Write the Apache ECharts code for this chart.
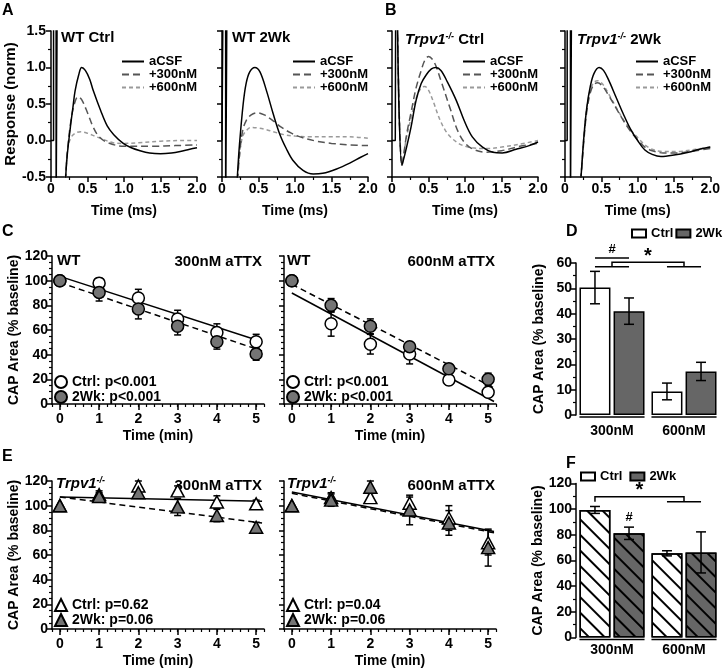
<!DOCTYPE html>
<html><head><meta charset="utf-8">
<script src="https://cdn.jsdelivr.net/npm/echarts@6/dist/echarts.min.js"></script>
<style>html,body{margin:0;padding:0;background:#fff}#c{width:723px;height:671px}</style>
</head><body><div id="c"></div>
<script>
// ================= DATA =================
// Panels A/B: CAP traces, [time (ms), normalized response]
const artifactA1 = [[0,0],[0.035,0],[0.035,2],[0.07,2],[0.07,-1],[0.085,-1],[0.085,2]];
const wtCtrl_aCSF = [[0.19,-0.7],[0.22,-0.23],[0.265,0.18],[0.3,0.45],[0.33,0.68],[0.38,0.9],[0.42,1.0],[0.47,0.96],[0.53,0.84],[0.58,0.68],[0.68,0.41],[0.77,0.2],[0.86,0.08],[0.99,-0.04],[1.1,-0.1],[1.22,-0.14],[1.35,-0.17],[1.5,-0.18],[1.65,-0.17],[1.77,-0.15],[1.9,-0.12],[2.0,-0.1]];
const wtCtrl_300 = [[0.19,-0.7],[0.22,-0.2],[0.27,0.25],[0.32,0.5],[0.37,0.6],[0.42,0.56],[0.5,0.38],[0.58,0.18],[0.66,0.05],[0.78,-0.03],[1.0,-0.08],[1.4,-0.08],[1.7,-0.07],[2.0,-0.06]];
const wtCtrl_600 = [[0.19,-0.7],[0.23,-0.1],[0.28,0.05],[0.35,0.11],[0.41,0.12],[0.5,0.1],[0.6,0.06],[0.7,0.02],[0.85,-0.03],[1.0,-0.04],[1.2,-0.03],[1.5,-0.01],[1.8,0.0],[2.0,0.0]];

const artifactA2 = [[0,0],[0.014,0],[0.014,2],[0.05,2],[0.05,-1],[0.068,-1],[0.068,2]];
const wt2Wk_aCSF = [[0.2,-0.7],[0.21,-0.5],[0.24,-0.05],[0.29,0.5],[0.33,0.78],[0.38,0.94],[0.45,1.0],[0.52,0.94],[0.61,0.68],[0.7,0.37],[0.79,0.09],[0.88,-0.11],[0.97,-0.27],[1.11,-0.41],[1.25,-0.46],[1.38,-0.45],[1.57,-0.39],[1.75,-0.31],[1.9,-0.23],[2.0,-0.18]];
const wt2Wk_300 = [[0.2,-0.7],[0.24,-0.2],[0.28,0.12],[0.33,0.27],[0.4,0.35],[0.49,0.38],[0.58,0.35],[0.7,0.27],[0.8,0.19],[0.95,0.1],[1.1,0.04],[1.3,-0.01],[1.5,-0.04],[1.75,-0.06],[2.0,-0.07]];
const wt2Wk_600 = [[0.2,-0.7],[0.24,-0.2],[0.28,0.05],[0.33,0.13],[0.4,0.18],[0.5,0.17],[0.6,0.15],[0.7,0.12],[0.85,0.08],[1.0,0.06],[1.2,0.05],[1.5,0.05],[1.75,0.05],[2.0,0.03]];

const artifactB1 = [[0,0],[0.045,0],[0.05,1.8],[0.075,1.8]];
const koCtrl_aCSF = [[0.075,1.6],[0.137,-0.34],[0.2,-0.09],[0.26,0.18],[0.33,0.55],[0.4,0.78],[0.47,0.9],[0.54,0.98],[0.6,1.0],[0.67,0.96],[0.76,0.8],[0.88,0.55],[0.99,0.27],[1.1,0.05],[1.24,-0.09],[1.38,-0.16],[1.51,-0.17],[1.7,-0.12],[1.88,-0.07],[2.0,-0.02]];
const koCtrl_300 = [[0.075,1.6],[0.137,-0.34],[0.2,0.08],[0.26,0.38],[0.33,0.72],[0.4,0.96],[0.45,1.1],[0.5,1.15],[0.58,1.07],[0.67,0.82],[0.79,0.46],[0.92,0.09],[1.06,-0.09],[1.29,-0.16],[1.5,-0.14],[1.75,-0.08],[2.0,-0.04]];
const koCtrl_600 = [[0.075,1.6],[0.137,-0.34],[0.2,0.05],[0.26,0.3],[0.33,0.58],[0.4,0.72],[0.45,0.74],[0.5,0.69],[0.57,0.52],[0.65,0.3],[0.73,0.14],[0.82,0.03],[0.95,-0.06],[1.1,-0.1],[1.3,-0.11],[1.5,-0.09],[1.75,-0.05],[2.0,0.0]];

const artifactB2 = [[0,0],[0.03,0],[0.03,2],[0.075,2],[0.075,-1],[0.09,-1],[0.09,2]];
const ko2Wk_aCSF = [[0.2,-0.7],[0.22,-0.5],[0.26,0.05],[0.3,0.45],[0.35,0.75],[0.4,0.92],[0.47,1.0],[0.53,0.96],[0.6,0.83],[0.7,0.6],[0.8,0.37],[0.9,0.16],[1.0,0.0],[1.1,-0.13],[1.2,-0.19],[1.32,-0.22],[1.5,-0.2],[1.7,-0.16],[1.85,-0.12],[2.0,-0.09]];
const ko2Wk_300 = [[0.2,-0.7],[0.22,-0.5],[0.26,0.0],[0.3,0.4],[0.35,0.66],[0.4,0.77],[0.45,0.79],[0.52,0.74],[0.6,0.62],[0.7,0.45],[0.8,0.28],[0.9,0.13],[1.0,0.01],[1.1,-0.09],[1.2,-0.14],[1.35,-0.17],[1.55,-0.17],[1.8,-0.14],[2.0,-0.11]];
const ko2Wk_600 = [[0.2,-0.7],[0.22,-0.5],[0.26,0.05],[0.3,0.45],[0.35,0.7],[0.4,0.8],[0.45,0.82],[0.52,0.77],[0.6,0.64],[0.7,0.46],[0.8,0.29],[0.9,0.15],[1.0,0.04],[1.1,-0.06],[1.2,-0.12],[1.35,-0.15],[1.55,-0.15],[1.8,-0.12],[2.0,-0.09]];

// Panels C/E: CAP area (% baseline) vs time (min)
const minutes = [0, 1, 2, 3, 4, 5];
const wt300_ctrl = [100, 98, 86, 69, 58, 50.5];
const wt300_ctrlErr = [0, 4, 7, 7, 7, 6];
const wt300_2wk = [100, 90.5, 77, 63, 50.5, 40.5];
const wt300_2wkErr = [0, 7, 8, 7, 6, 5];
const wt600_ctrl = [100, 65, 48.5, 40.5, 19.5, 9.5];
const wt600_ctrlErr = [0, 10, 8, 8, 4, 4];
const wt600_2wk = [100, 80, 63, 46.5, 28.5, 20];
const wt600_2wkErr = [0, 5.5, 6, 4, 4, 5];
const ko300_ctrl = [100, 109, 116, 112, 103, 101.5];
const ko300_ctrlErr = [0, 3, 4, 4, 5, 3];
const ko300_2wk = [100, 107.5, 110.5, 99, 92, 82.5];
const ko300_2wkErr = [0, 3, 3, 7, 5, 4];
const ko600_ctrl = [100, 106.5, 106.5, 102, 90, 70];
const ko600_ctrlErr = [0, 4, 4, 5, 10, 10];
const ko600_2wk = [100, 104.5, 115, 96.5, 86, 66];
const ko600_2wkErr = [0, 5, 5, 12, 10, 15];
// regression lines: value at fitTimes[0] and fitTimes[1]
const fitTimes = [0, 5.15];
const wt300_ctrlFit = [103.5, 50.5];
const wt300_2wkFit = [98.5, 43];
const wt600_ctrlFit = [90, 2];
const wt600_2wkFit = [97, 13];
const ko300_ctrlFit = [107, 103.5];
const ko300_2wkFit = [107, 86];
const ko600_ctrlFit = [111, 79];
const ko600_2wkFit = [110, 78];

// Panels D/F: CAP area at end (% baseline)
const doses = ['300nM', '600nM'];
const wtEnd_ctrl = [50.3, 9.3];
const wtEnd_ctrlErr = [6.4, 3.3];
const wtEnd_2wk = [41, 17.2];
const wtEnd_2wkErr = [5.2, 3.6];
const koEnd_ctrl = [99.4, 65.6];
const koEnd_ctrlErr = [2.7, 2];
const koEnd_2wk = [81.2, 66.3];
const koEnd_2wkErr = [4.8, 16];

// ================= CHART =================
const FF = '"Liberation Sans", Arial, Helvetica, sans-serif';
const chart = echarts.init(document.getElementById('c'), null, {renderer: 'canvas'});

const axLine = {show: true, onZero: false, lineStyle: {color: '#000', width: 1.5}};
const tickStyle = {color: '#000', width: 1.5};
const minorStyle = {color: '#000', width: 1.2};
const lbl = {color: '#000', fontFamily: FF, fontWeight: 'bold', fontSize: 14};
const nm = {color: '#000', fontFamily: FF, fontWeight: 'bold', fontSize: 14};

const grids = [];
const topLefts = [51, 222, 392, 565];
topLefts.forEach(l => grids.push({left: l, top: 31, width: 146, height: 146}));
grids.push({left: 52, top: 256, width: 212, height: 148});   // 4 C1
grids.push({left: 284, top: 256, width: 212, height: 148});  // 5 C2
grids.push({left: 576, top: 263, width: 144, height: 152});  // 6 D
grids.push({left: 52, top: 481, width: 212, height: 148});   // 7 E1
grids.push({left: 284, top: 481, width: 212, height: 148});  // 8 E2
grids.push({left: 576, top: 483.5, width: 144, height: 154}); // 9 F

const xAxis = [], yAxis = [], series = [];

// top row axes
for (let i = 0; i < 4; i++) {
  xAxis.push({type: 'value', gridIndex: i, min: 0, max: 2, interval: 0.5,
    axisLine: axLine, axisTick: {show: true, length: 5, lineStyle: tickStyle},
    minorTick: {show: true, splitNumber: 2, length: 3, lineStyle: minorStyle},
    splitLine: {show: false}, minorSplitLine: {show: false},
    axisLabel: Object.assign({}, lbl, {margin: 5, formatter: v => v === 0 ? '0' : v.toFixed(1)}),
    name: 'Time (ms)', nameLocation: 'middle', nameGap: 27, nameTextStyle: nm});
  yAxis.push({type: 'value', gridIndex: i, min: -0.5, max: 1.5, interval: 0.5,
    axisLine: axLine, axisTick: {show: true, length: 5, lineStyle: tickStyle},
    minorTick: {show: true, splitNumber: 2, length: 3, lineStyle: minorStyle},
    splitLine: {show: false}, minorSplitLine: {show: false},
    axisLabel: Object.assign({}, lbl, {show: i === 0, margin: 5, formatter: v => v.toFixed(1)}),
    name: i === 0 ? 'Response (norm)' : '', nameLocation: 'middle', nameGap: 27,
    nameTextStyle: Object.assign({}, nm, {fontSize: 15})});
}

function addTimeAxes(gi) {
  const idx = xAxis.length;
  xAxis.push({type: 'value', gridIndex: gi, min: -0.2, max: 5.2, interval: 0.2, position: 'bottom',
    axisLine: axLine, axisTick: {show: true, length: 3, lineStyle: minorStyle},
    axisLabel: {show: false}, splitLine: {show: false}});
  xAxis.push({type: 'value', gridIndex: gi, min: -0.2, max: 5.2, position: 'bottom',
    axisLine: {show: false, onZero: false},
    axisTick: {show: true, length: 6, lineStyle: tickStyle, customValues: minutes},
    axisLabel: Object.assign({}, lbl, {margin: 8, customValues: minutes}),
    splitLine: {show: false},
    name: 'Time (min)', nameLocation: 'middle', nameGap: 25, nameTextStyle: nm});
  return idx;
}
function addCapY(gi, showLabel) {
  yAxis.push({type: 'value', gridIndex: gi, min: 0, max: 120, interval: 20,
    axisLine: axLine, axisTick: {show: true, length: 5, lineStyle: tickStyle},
    minorTick: {show: true, splitNumber: 4, length: 3, lineStyle: minorStyle},
    splitLine: {show: false}, minorSplitLine: {show: false},
    axisLabel: Object.assign({}, lbl, {show: showLabel, margin: 4}),
    name: showLabel ? 'CAP Area (% baseline)' : '', nameLocation: 'middle', nameGap: 30, nameTextStyle: nm});
  return yAxis.length - 1;
}
function addBarAxes(gi, max, interval, margin) {
  xAxis.push({type: 'category', gridIndex: gi, data: doses,
    axisLine: {show: false, onZero: false}, axisTick: {show: false},
    axisLabel: Object.assign({}, lbl, {margin: margin})});
  yAxis.push({type: 'value', gridIndex: gi, min: 0, max: max, interval: interval,
    axisLine: axLine, axisTick: {show: true, length: 5, lineStyle: tickStyle},
    minorTick: {show: true, splitNumber: 2, length: 3, lineStyle: minorStyle},
    splitLine: {show: false}, minorSplitLine: {show: false},
    axisLabel: Object.assign({}, lbl, {margin: 4}),
    name: 'CAP Area (% baseline)', nameLocation: 'middle', nameGap: 30, nameTextStyle: nm});
  return [xAxis.length - 1, yAxis.length - 1];
}

const xC1 = addTimeAxes(4), yC1 = addCapY(4, true);
const xC2 = addTimeAxes(5), yC2 = addCapY(5, false);
const [xD, yD] = addBarAxes(6, 60, 10, 9);
const xE1 = addTimeAxes(7), yE1 = addCapY(7, true);
const xE2 = addTimeAxes(8), yE2 = addCapY(8, false);
const [xF, yF] = addBarAxes(9, 120, 20, 6);

// ---- traces ----
const traceSets = [
  {gi: 0, art: artifactA1, a: wtCtrl_aCSF, b: wtCtrl_300, c: wtCtrl_600},
  {gi: 1, art: artifactA2, a: wt2Wk_aCSF, b: wt2Wk_300, c: wt2Wk_600},
  {gi: 2, art: artifactB1, a: koCtrl_aCSF, b: koCtrl_300, c: koCtrl_600},
  {gi: 3, art: artifactB2, a: ko2Wk_aCSF, b: ko2Wk_300, c: ko2Wk_600}
];
traceSets.forEach(s => {
  const base = {type: 'line', xAxisIndex: s.gi, yAxisIndex: s.gi, symbol: 'none', smooth: 0.35, clip: true, silent: true};
  series.push(Object.assign({}, base, {name: '+600nM', data: s.c, color: '#9a9a9a',
    lineStyle: {color: '#9a9a9a', width: 1.5, type: [4, 3]}, z: 2}));
  series.push(Object.assign({}, base, {name: '+300nM', data: s.b, color: '#555',
    lineStyle: {color: '#555', width: 1.5, type: [7, 4]}, z: 2}));
  series.push(Object.assign({}, base, {name: 'aCSF', data: s.a, color: '#000',
    lineStyle: {color: '#000', width: 1.5}, z: 3}));
  series.push(Object.assign({}, base, {name: 'artifact', data: s.art, smooth: false, color: '#000',
    lineStyle: {color: '#000', width: 1.5}, z: 3}));
});

// ---- error bar renderer ----
function errRender(capW, shiftFrac) {
  return function (params, api) {
    const e = api.value(2);
    if (!e) return null;
    const x = api.value(0), v = api.value(1);
    const top = api.coord([x, v + e]);
    const bot = api.coord([x, v - e]);
    const dx = shiftFrac ? api.size([1, 0])[0] * shiftFrac : 0;
    const cx = top[0] + dx;
    const st = {stroke: '#000', lineWidth: 1.5};
    return {type: 'group', children: [
      {type: 'line', shape: {x1: cx, y1: top[1], x2: cx, y2: bot[1]}, style: st},
      {type: 'line', shape: {x1: cx - capW / 2, y1: top[1], x2: cx + capW / 2, y2: top[1]}, style: st},
      {type: 'line', shape: {x1: cx - capW / 2, y1: bot[1], x2: cx + capW / 2, y2: bot[1]}, style: st}
    ]};
  };
}

// ---- C/E panels ----
const timePanels = [
  {x: xC1, y: yC1, sym: 'circle', size: 12, ctrl: wt300_ctrl, ctrlErr: wt300_ctrlErr, wk: wt300_2wk, wkErr: wt300_2wkErr, ctrlFit: wt300_ctrlFit, wkFit: wt300_2wkFit, cName: 'Ctrl: p<0.001', wName: '2Wk: p<0.001'},
  {x: xC2, y: yC2, sym: 'circle', size: 12, ctrl: wt600_ctrl, ctrlErr: wt600_ctrlErr, wk: wt600_2wk, wkErr: wt600_2wkErr, ctrlFit: wt600_ctrlFit, wkFit: wt600_2wkFit, cName: 'Ctrl: p<0.001', wName: '2Wk: p<0.001'},
  {x: xE1, y: yE1, sym: 'triangle', size: [13, 12], ctrl: ko300_ctrl, ctrlErr: ko300_ctrlErr, wk: ko300_2wk, wkErr: ko300_2wkErr, ctrlFit: ko300_ctrlFit, wkFit: ko300_2wkFit, cName: 'Ctrl: p=0.62', wName: '2Wk: p=0.06'},
  {x: xE2, y: yE2, sym: 'triangle', size: [13, 12], ctrl: ko600_ctrl, ctrlErr: ko600_ctrlErr, wk: ko600_2wk, wkErr: ko600_2wkErr, ctrlFit: ko600_ctrlFit, wkFit: ko600_2wkFit, cName: 'Ctrl: p=0.04', wName: '2Wk: p=0.06'}
];
timePanels.forEach(p => {
  const ax = {xAxisIndex: p.x, yAxisIndex: p.y};
  series.push(Object.assign({type: 'line', name: 'fit ctrl', symbol: 'none', silent: true, z: 2,
    data: fitTimes.map((t, i) => [t, p.ctrlFit[i]]), lineStyle: {color: '#000', width: 1.5}}, ax));
  series.push(Object.assign({type: 'line', name: 'fit 2wk', symbol: 'none', silent: true, z: 2,
    data: fitTimes.map((t, i) => [t, p.wkFit[i]]), lineStyle: {color: '#000', width: 1.5, type: [6, 4]}}, ax));
  series.push(Object.assign({type: 'custom', name: 'err', renderItem: errRender(7, 0), clip: false, silent: true, z: 3,
    data: minutes.map((t, i) => [t, p.ctrl[i], p.ctrlErr[i]])}, ax));
  series.push(Object.assign({type: 'custom', name: 'err', renderItem: errRender(7, 0), clip: false, silent: true, z: 3,
    data: minutes.map((t, i) => [t, p.wk[i], p.wkErr[i]])}, ax));
  series.push(Object.assign({type: 'scatter', name: p.cName, symbol: p.sym, symbolSize: p.size, z: 4, silent: true,
    data: minutes.map((t, i) => [t, p.ctrl[i]]),
    itemStyle: {color: '#fff', borderColor: '#000', borderWidth: 1.5, opacity: 1}}, ax));
  series.push(Object.assign({type: 'scatter', name: p.wName, symbol: p.sym, symbolSize: p.size, z: 5, silent: true,
    data: minutes.map((t, i) => [t, p.wk[i]]),
    itemStyle: {color: '#747474', borderColor: '#000', borderWidth: 1.5, opacity: 1}}, ax));
});

// ---- D/F bars ----
const SHIFT = 0.2365;
const hatch = {symbol: 'rect', symbolSize: 1, dashArrayX: [1, 0], dashArrayY: [1.4, 9], rotation: Math.PI / 4, color: '#000'};
const barPanels = [
  {x: xD, y: yD, ctrl: wtEnd_ctrl, ctrlErr: wtEnd_ctrlErr, wk: wtEnd_2wk, wkErr: wtEnd_2wkErr, decal: null},
  {x: xF, y: yF, ctrl: koEnd_ctrl, ctrlErr: koEnd_ctrlErr, wk: koEnd_2wk, wkErr: koEnd_2wkErr, decal: hatch}
];
barPanels.forEach(p => {
  const ax = {xAxisIndex: p.x, yAxisIndex: p.y};
  const cs = {color: '#fff', borderColor: '#000', borderWidth: 1.5};
  const ws = {color: '#666', borderColor: '#000', borderWidth: 1.5};
  if (p.decal) { cs.decal = p.decal; ws.decal = p.decal; }
  series.push(Object.assign({type: 'bar', name: 'Ctrl', data: p.ctrl, barWidth: '43%', barGap: '10%', itemStyle: cs, silent: true, z: 2}, ax));
  series.push(Object.assign({type: 'bar', name: '2Wk', data: p.wk, barWidth: '43%', barGap: '10%', itemStyle: ws, silent: true, z: 2}, ax));
  series.push(Object.assign({type: 'custom', name: 'err', renderItem: errRender(10, -SHIFT), clip: false, silent: true, z: 4,
    data: doses.map((d, i) => [i, p.ctrl[i], p.ctrlErr[i]])}, ax));
  series.push(Object.assign({type: 'custom', name: 'err', renderItem: errRender(10, SHIFT), clip: false, silent: true, z: 4,
    data: doses.map((d, i) => [i, p.wk[i], p.wkErr[i]])}, ax));
  series.push(Object.assign({type: 'custom', name: 'under', clip: false, silent: true, z: 4,
    data: doses.map((d, i) => [i, 0]),
    renderItem: function (params, api) {
      const c = api.coord([api.value(0), 0]);
      const B = api.size([1, 0])[0];
      return {type: 'line', shape: {x1: c[0] - 0.452 * B, y1: c[1] + 2, x2: c[0] + 0.452 * B, y2: c[1] + 2},
        style: {stroke: '#000', lineWidth: 1.5}};
    }}, ax));
});

// ---- legends ----
const legTxt = {fontFamily: FF, fontWeight: 'bold', fontSize: 13, color: '#000'};
const legends = [];
topLefts.forEach(l => legends.push({left: l + 70, top: 55, orient: 'vertical', itemWidth: 22, itemHeight: 12, itemGap: 0,
  padding: 0, selectedMode: false, data: ['aCSF', '+300nM', '+600nM'],
  itemStyle: {color: 'rgba(0,0,0,0)', borderColor: 'rgba(0,0,0,0)', borderWidth: 0, opacity: 0},
  textStyle: Object.assign({}, legTxt, {lineHeight: 12})}));
const ptLeg = (left, top, names) => ({left: left, top: top, orient: 'vertical', itemWidth: 12, itemHeight: 12, itemGap: 1,
  padding: 0, selectedMode: false, data: names, textStyle: Object.assign({}, legTxt, {fontSize: 14, lineHeight: 13})});
legends.push(ptLeg(54, 375, ['Ctrl: p<0.001', '2Wk: p<0.001']));
legends.push(ptLeg(286, 375, ['Ctrl: p<0.001', '2Wk: p<0.001']));
legends.push(ptLeg(54, 598, ['Ctrl: p=0.62', '2Wk: p=0.06']));
legends.push(ptLeg(286, 598, ['Ctrl: p=0.04', '2Wk: p=0.06']));
const barLeg = (left, top, gap) => ({left: left, top: top, width: 120, orient: 'horizontal', icon: 'rect', itemWidth: 14, itemHeight: 8, itemGap: gap,
  padding: 0, selectedMode: false, data: ['Ctrl', '2Wk'], textStyle: legTxt});
legends.push(barLeg(631, 227, 2));
legends.push(barLeg(580, 470, 7));

// ---- text annotations ----
const T = (x, y, text, opt) => Object.assign({type: 'text', x: x, y: y, silent: true,
  style: Object.assign({text: text, fill: '#000', font: 'bold 15px ' + FF, align: 'left', verticalAlign: 'middle'}, opt || {})});
const ko = (x, y, tail) => T(x, y, '{i|Trpv1}{s|-/-}' + tail, {
  rich: {i: {fontStyle: 'italic', fontWeight: 'bold', fontSize: 15, fontFamily: FF},
         s: {fontStyle: 'italic', fontWeight: 'bold', fontSize: 9, fontFamily: FF, verticalAlign: 'top'}}});
const letter = {font: 'bold 16px ' + FF, verticalAlign: 'top'};
const graphics = [
  T(2, 3, 'A', letter), T(385, 3, 'B', letter), T(2, 224, 'C', letter),
  T(566, 224, 'D', letter), T(2, 449, 'E', letter), T(566, 456, 'F', letter),
  T(61, 38, 'WT Ctrl'), T(232, 38, 'WT 2Wk'), ko(405, 40, ' Ctrl'), ko(577, 40, ' 2Wk'),
  T(57, 261, 'WT'), T(262, 262, '300nM aTTX', {align: 'right'}),
  T(287, 261, 'WT'), T(495, 262, '600nM aTTX', {align: 'right'}),
  ko(56, 484, ''), T(262, 486, '300nM aTTX', {align: 'right'}),
  ko(287, 484, ''), T(495, 486, '600nM aTTX', {align: 'right'})
];

chart.setOption({
  animation: false,
  backgroundColor: '#fff',
  textStyle: {fontFamily: FF},
  grid: grids, xAxis: xAxis, yAxis: yAxis, legend: legends, series: series,
  graphic: graphics
});

// ---- significance brackets (positioned from axes) ----
const toPx = (xi, yi, v) => chart.convertToPixel({xAxisIndex: xi, yAxisIndex: yi}, v);
const st = {stroke: '#000', lineWidth: 1.5, fill: null};
const ln = (pts) => ({type: 'polyline', silent: true, shape: {points: pts}, style: st});
const extra = [];
{
  const g0 = toPx(xD, yD, [0, 0]), g1 = toPx(xD, yD, [1, 0]);
  const top = toPx(xD, yD, [0, 60])[1];
  const off = (g1[0] - g0[0]) * SHIFT;
  extra.push(ln([[g0[0] - off, top - 5], [g0[0] + off, top - 5]]));
  extra.push(T(g0[0], top - 14, '#', {align: 'center', font: 'bold 13px ' + FF}));
  extra.push(ln([[g0[0] - off, top + 3.7], [g0[0] + off, top + 3.7]]));
  extra.push(ln([[g1[0] - off, top + 3.7], [g1[0] + off, top + 3.7]]));
  extra.push(ln([[g0[0], top + 3.7], [g0[0], top - 0.7], [g1[0], top - 0.7], [g1[0], top + 3.7]]));
  extra.push(T((g0[0] + g1[0]) / 2, top - 7, '*', {align: 'center', font: 'bold 20px ' + FF}));
}
{
  const g0 = toPx(xF, yF, [0, 0]), g1 = toPx(xF, yF, [1, 0]);
  const top = toPx(xF, yF, [0, 120])[1];
  const off = (g1[0] - g0[0]) * SHIFT;
  extra.push(ln([[g1[0] - off, top + 18.2], [g1[0] + off, top + 18.2]]));
  extra.push(ln([[g0[0] - off, top + 18.2], [g0[0] - off, top + 13.2], [g1[0], top + 13.2], [g1[0], top + 18.2]]));
  extra.push(T((g0[0] - off + g1[0]) / 2, top + 7, '*', {align: 'center', font: 'bold 20px ' + FF}));
  extra.push(T(g0[0] + off, top + 34, '#', {align: 'center', font: 'bold 13px ' + FF}));
}
chart.setOption({graphic: graphics.concat(extra)});
</script></body></html>
